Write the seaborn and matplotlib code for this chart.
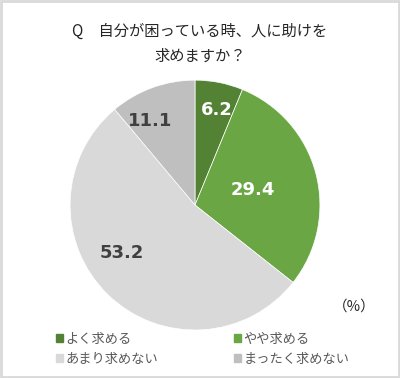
import matplotlib
matplotlib.use("Agg")
import matplotlib.pyplot as plt
from matplotlib.patches import Rectangle
import numpy as np
import seaborn as sns

sns.set_style("white")
plt.rcParams['font.family'] = ['Noto Sans CJK JP', 'DejaVu Sans']

categories = ["よく求める", "やや求める", "あまり求めない", "まったく求めない"]
values = [6.2, 29.4, 53.2, 11.1]
colors = ["#548235", "#6aa744", "#d9d9d9", "#bfbfbf"]
label_colors = ["white", "white", "#404040", "#404040"]
label_radius = [0.78, 0.48, 0.70, 0.76]
label_shift = [-2, 0, -13, 8]  # degrees, Excel puts the labels a bit off-centre

fig = plt.figure(figsize=(4.0, 3.78), dpi=100)
ax = fig.add_axes([0.175, 0.127, 0.625, 0.661])

wedges, _ = ax.pie(values, colors=colors, startangle=90, counterclock=False,
                   wedgeprops=dict(edgecolor="white", linewidth=0.5))
ax.set_xlim(-1.0, 1.0)
ax.set_ylim(-1.0, 1.0)
for w in wedges:
    w.set_clip_on(False)

for w, v, c, r, s in zip(wedges, values, label_colors, label_radius, label_shift):
    ang = np.deg2rad((w.theta1 + w.theta2) / 2 + s)
    ax.text(r * np.cos(ang), r * np.sin(ang), f"{v:.1f}", color=c,
            ha="center", va="center", fontsize=13, fontweight="bold",
            family="DejaVu Sans")

fig.text(0.5, 0.918, "Q　自分が困っている時、人に助けを", ha="center", va="center",
         fontsize=11, color="#262626")
fig.text(0.5, 0.852, "求めますか？", ha="center", va="center",
         fontsize=11, color="#262626")
fig.text(0.885, 0.19, "（%）", ha="center", va="center", fontsize=10.5, color="#262626")

# legend fills row by row in the original, matplotlib fills columns
order = [0, 2, 1, 3]
handles = [Rectangle((0, 0), 1, 1, color=colors[i]) for i in order]
labels = [categories[i] for i in order]
fig.legend(handles, labels, ncol=2, loc="lower left",
           bbox_to_anchor=(0.11, 0.0), frameon=False, fontsize=9.5,
           handlelength=0.55, handleheight=0.55, handletextpad=0.2,
           columnspacing=5.7, labelspacing=0.55, labelcolor="#595959")

fig.patches.append(Rectangle((0.003, 0.003), 0.994, 0.994, transform=fig.transFigure,
                             fill=False, edgecolor="#d9d9d9", linewidth=2))

fig.savefig("out.png", dpi=100)
